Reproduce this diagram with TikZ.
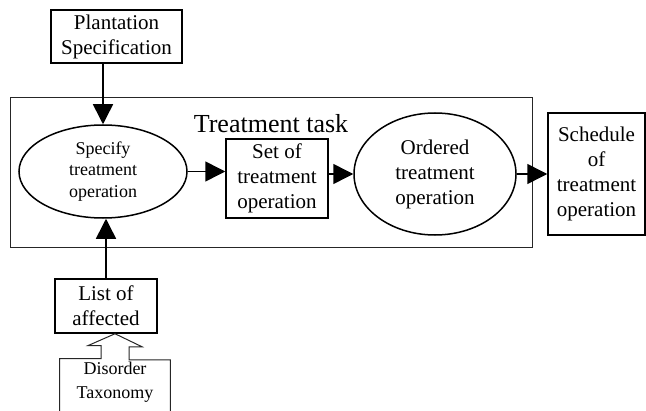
\documentclass[tikz,border=0pt]{standalone}
\usepackage{fontspec}
\setmainfont{Liberation Serif}
\usepackage{tikz}
\usetikzlibrary{arrows.meta,positioning,shapes.geometric}

\begin{document}
\begin{tikzpicture}[
x=0.5pt,y=-0.5pt,
box/.style={
draw,
line width=0.75pt,
inner sep=0pt,
align=center,
font=\fontsize{10.5pt}{12.5pt}\selectfont
},
oval/.style={
ellipse,
draw,
line width=0.75pt,
inner sep=0pt,
align=center
},
arr/.style={
line width=0.75pt,
-{Triangle[length=10pt,width=10pt]}
},
thinline/.style={
draw=black!85,
line width=0.5pt
}
]

\clip (0,0) rectangle (646,411);

% outer task frame
\draw[thinline] (10,98) rectangle (532,247);
\node[font=\fontsize{13pt}{15pt}\selectfont] (title) at (271,124) {Treatment task};

\node[box,minimum width=65.5pt,minimum height=26.5pt] (plant) at (116.5,36.5) {Plantation\\Specification};

\node[oval,minimum width=84pt,minimum height=46.5pt,
font=\fontsize{9pt}{10.75pt}\selectfont] (spec) at (103,171.5) {Specify\\treatment\\operation};

\node[box,minimum width=51pt,minimum height=39.5pt] (set) at (277,178.5) {Set of\\treatment\\operation};

\node[oval,minimum width=81pt,minimum height=61pt,
font=\fontsize{10.5pt}{12.5pt}\selectfont] (ord) at (435,174) {Ordered\\treatment\\operation};

\node[box,minimum width=48.5pt,minimum height=61pt] (sched) at (596.5,174) {Schedule\\of\\treatment\\operation};

\node[box,minimum width=51pt,minimum height=27pt] (list) at (106,306) {List of\\affected};

\node[inner sep=0pt,align=center,minimum width=55pt,minimum height=23pt,
font=\fontsize{9pt}{12pt}\selectfont] (dis) at (115,382) {Disorder\\Taxonomy};

% connectors
\draw[arr] (plant.south -| spec.north) -- (spec.north);
\draw[arr] (list.north) -- (list.north |- spec.south);
\draw[arr] (spec.east) -- (spec.east -| set.west);
\draw[arr] (set.east |- ord.west) -- (ord.west);
\draw[arr] (ord.east) -- (ord.east -| sched.west);

% open box with hollow arrow
\draw[thinline] (dis.south west) ++(0,10) |- ([xshift=-7pt]dis.north)
-- ++(0,-13) -- ++(-13,0) -- (dis.north |- list.south)
-- ++(27,13) -- ++(-13,0) -- ++(0,13) -| ([yshift=-5pt]dis.south east);

\end{tikzpicture}
\end{document}
